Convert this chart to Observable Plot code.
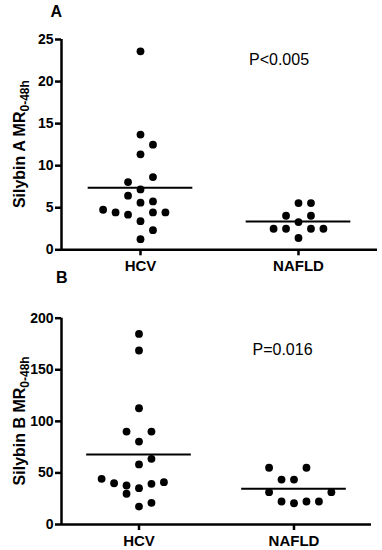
<!DOCTYPE html>
<html><head><meta charset="utf-8">
<script src="https://cdn.jsdelivr.net/npm/d3@7"></script>
<script src="https://cdn.jsdelivr.net/npm/@observablehq/plot@0.6"></script>
<style>
body{margin:0;background:#fff;}
#chart svg{display:block;}
#chart svg.panelB{margin-top:-8px;}
</style></head><body><div id="chart"></div>
<script>
const categories = ["HCV", "NAFLD"];

// Panel A: Silybin A MR(0-48h)
const silybinA_HCV = [23.6, 13.7, 12.5, 11.35, 8.64, 8.05, 7.18, 6.43, 5.6, 5.75, 4.76, 4.44, 4.17, 4.44, 4.44, 3.4, 2.33, 1.26];
const silybinA_HCV_column = [0, 0, 1, 0, 1, -1, 0, -1, 0, 1, -3, -2, -1, 1, 2, 0, 1, 0];
const silybinA_NAFLD = [5.55, 5.55, 4.05, 4.05, 3.29, 2.5, 2.5, 2.5, 2.5, 1.4];
const silybinA_NAFLD_column = [0, 1, -1, 1, 0, -2, -1, 1, 2, 0];
const silybinA_means = [7.38, 3.37];
const silybinA_ticks = [0, 5, 10, 15, 20, 25];
const silybinA_pValue = "P<0.005";

// Panel B: Silybin B MR(0-48h)
const silybinB_HCV = [184.8, 168.7, 112.7, 90.1, 90.1, 80.4, 63.7, 58.2, 44.3, 40.0, 37.8, 29.8, 35.2, 39.4, 41.0, 17.4, 21.0];
const silybinB_HCV_column = [0, 0, 0, -1, 1, 0, 1, 0, -3, -2, -1, -1, 0, 1, 2, 0, 1];
const silybinB_NAFLD = [55.0, 55.0, 43.6, 43.6, 31.3, 31.3, 22.3, 20.6, 22.3, 22.3];
const silybinB_NAFLD_column = [-2, 1, -1, 0, -2, 3, -1, 0, 1, 2];
const silybinB_means = [67.8, 34.6];
const silybinB_ticks = [0, 50, 100, 150, 200];
const silybinB_pValue = "P=0.016";

function rows(values, columns, group) {
  return values.map((v, i) => ({group, value: v, column: columns[i]}));
}

const FONT = "'Liberation Sans', Arial, Helvetica, sans-serif";

function panel(o) {
  const width = 382, marginLeft = 60, slot = 12.5;
  const band = (width - marginLeft - o.marginRight) / categories.length;
  const half = band / slot / 2;
  const meanRows = categories.map((g, i) => ({group: g, mean: o.means[i]}));
  const svg = Plot.plot({
    width, height: o.height, marginLeft, marginRight: o.marginRight,
    marginTop: o.marginTop, marginBottom: o.marginBottom,
    style: {fontFamily: FONT, fontSize: "14px", fontWeight: "bold", color: "#000", background: o.background},
    fx: {domain: categories, padding: 0, axis: null, label: null},
    x: {domain: [-half, half], axis: null},
    y: {domain: [0, o.yMax], axis: null},
    marks: [
      Plot.axisY({ticks: o.ticks, tickSize: 6, tickPadding: 2, strokeWidth: 2.5, fontSize: 14, fontWeight: "bold", label: null}),
      Plot.axisFx({anchor: "bottom", tickSize: 6, tickPadding: 5, strokeWidth: 2.5, fontSize: 15, fontWeight: "bold", label: null}),
      Plot.ruleX([categories[0]], {fx: d => d, x: -half, strokeWidth: 2.5}),
      Plot.ruleY([0], {strokeWidth: 2.5}),
      Plot.dot(o.points, {fx: "group", x: "column", y: "value", r: 3.9, fill: "#000", stroke: null}),
      Plot.ruleY(meanRows, {fx: "group", y: "mean", x1: -4.2, x2: 4.2, strokeWidth: 2}),
      Plot.text([o.pText], {fx: () => categories[1], frameAnchor: "top", dx: o.pDx, dy: o.pDy,
        fontSize: 16, fontWeight: "normal", lineAnchor: "middle", fill: "#000"})
    ]
  });
  svg.classList.add(o.cls);
  const s = d3.select(svg);
  s.append("text")
    .attr("x", o.letterX).attr("y", o.letterY)
    .attr("text-anchor", "middle")
    .attr("fill", "#000")
    .style("font-family", FONT).style("font-size", "16px").style("font-weight", "bold")
    .text(o.letter);
  const t = s.append("text")
    .attr("transform", `translate(25,${(o.marginTop + o.height - o.marginBottom) / 2}) rotate(-90)`)
    .attr("text-anchor", "middle")
    .attr("fill", "#000")
    .style("font-family", FONT).style("font-size", "16px").style("font-weight", "bold");
  t.append("tspan").text(o.title);
  t.append("tspan").attr("dy", 4).style("font-size", "12px").text(o.sub);
  return svg;
}

const chart = document.getElementById("chart");
chart.appendChild(panel({
  cls: "panelA", background: "#fff",
  letter: "A", letterX: 56.3, letterY: 16.7,
  title: "Silybin A MR", sub: "0-48h",
  points: [...rows(silybinA_HCV, silybinA_HCV_column, categories[0]), ...rows(silybinA_NAFLD, silybinA_NAFLD_column, categories[1])],
  means: silybinA_means, ticks: silybinA_ticks, yMax: 25, pText: silybinA_pValue,
  height: 276, marginTop: 39, marginBottom: 26.7, marginRight: 5, pDx: -19.5, pDy: 20.3
}));
chart.appendChild(panel({
  cls: "panelB", background: "transparent",
  letter: "B", letterX: 61.7, letterY: 15.3,
  title: "Silybin B MR", sub: "0-48h",
  points: [...rows(silybinB_HCV, silybinB_HCV_column, categories[0]), ...rows(silybinB_NAFLD, silybinB_NAFLD_column, categories[1])],
  means: silybinB_means, ticks: silybinB_ticks, yMax: 200, pText: silybinB_pValue,
  height: 282, marginTop: 49.7, marginBottom: 26, marginRight: 11, pDx: -11.5, pDy: 31.6
}));
</script>
</body></html>
